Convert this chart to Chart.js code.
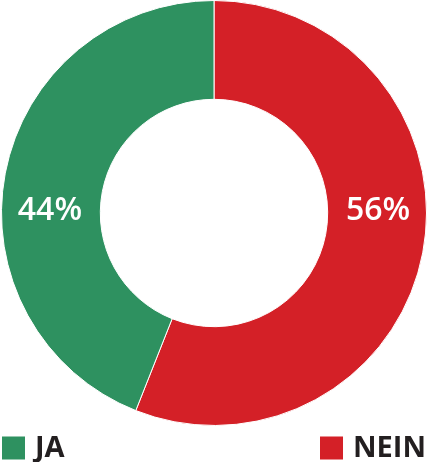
<!DOCTYPE html>
<html>
<head>
<meta charset="utf-8">
<script src="https://cdn.jsdelivr.net/npm/chart.js@4"></script>
<style>
  html, body { margin: 0; padding: 0; background: #fff; }
  #wrap { width: 428px; height: 462px; position: relative; }
</style>
</head>
<body>
<div id="wrap"><canvas id="myChart"></canvas></div>
<script>
var labels = ['NEIN', 'JA'];
var values = [56, 44];
var colors = ['#d42027', '#2e9160'];
var legendOrder = ['JA', 'NEIN'];

var fontFamily = '"Open Sans", sans-serif';

// percent labels, drawn at the mid radius on the horizontal line through the centre
var sliceLabels = {
    id: 'sliceLabels',
    afterDatasetsDraw: function(chart){
        var ctx = chart.ctx;
        var meta = chart.getDatasetMeta(0);
        ctx.save();
        ctx.fillStyle = '#ffffff';
        ctx.font = '600 32px ' + fontFamily;
        ctx.textAlign = 'center';
        ctx.textBaseline = 'middle';
        meta.data.forEach(function(arc, i){
            var p = arc.getProps(['x', 'y', 'innerRadius', 'outerRadius', 'startAngle', 'endAngle']);
            var r = (p.innerRadius + p.outerRadius) / 2;
            var mid = (p.startAngle + p.endAngle) / 2;
            var side = Math.cos(mid) >= 0 ? 1 : -1;
            ctx.fillText(values[i] + '%', p.x + side * (r + 1), p.y - 2);
        });
        ctx.restore();
    }
};

// legend: first entry on the left edge, last on the right edge
var edgeLegend = {
    id: 'edgeLegend',
    afterDraw: function(chart){
        var ctx = chart.ctx;
        var y = 448;
        ctx.save();
        ctx.font = '700 29px ' + fontFamily;
        ctx.textBaseline = 'middle';
        legendOrder.forEach(function(name, k){
            var i = labels.indexOf(name);
            var tw = ctx.measureText(name).width;
            var box = 23, gap = 10;
            var x = k === 0 ? 2 : chart.width - 2 - tw - gap - box;
            ctx.fillStyle = colors[i];
            ctx.fillRect(x, y - box / 2, box, box);
            ctx.fillStyle = '#231f20';
            ctx.fillText(name, x + box + gap, y + 1);
        });
        ctx.restore();
    }
};

var myChart = new Chart(document.getElementById('myChart'), {
    type: 'doughnut',
    data: {
        labels: labels,
        datasets: [{
            data: values,
            backgroundColor: colors,
            borderColor: '#ffffff',
            borderWidth: 1
        }]
    },
    options: {
        responsive: true,
        maintainAspectRatio: false,
        animation: false,
        cutout: '53.5%',
        layout: { padding: { top: 0, bottom: 36, left: 0, right: 0 } },
        plugins: {
            legend: { display: false },
            tooltip: { enabled: false }
        }
    },
    plugins: [sliceLabels, edgeLegend]
});
</script>
</body>
</html>
